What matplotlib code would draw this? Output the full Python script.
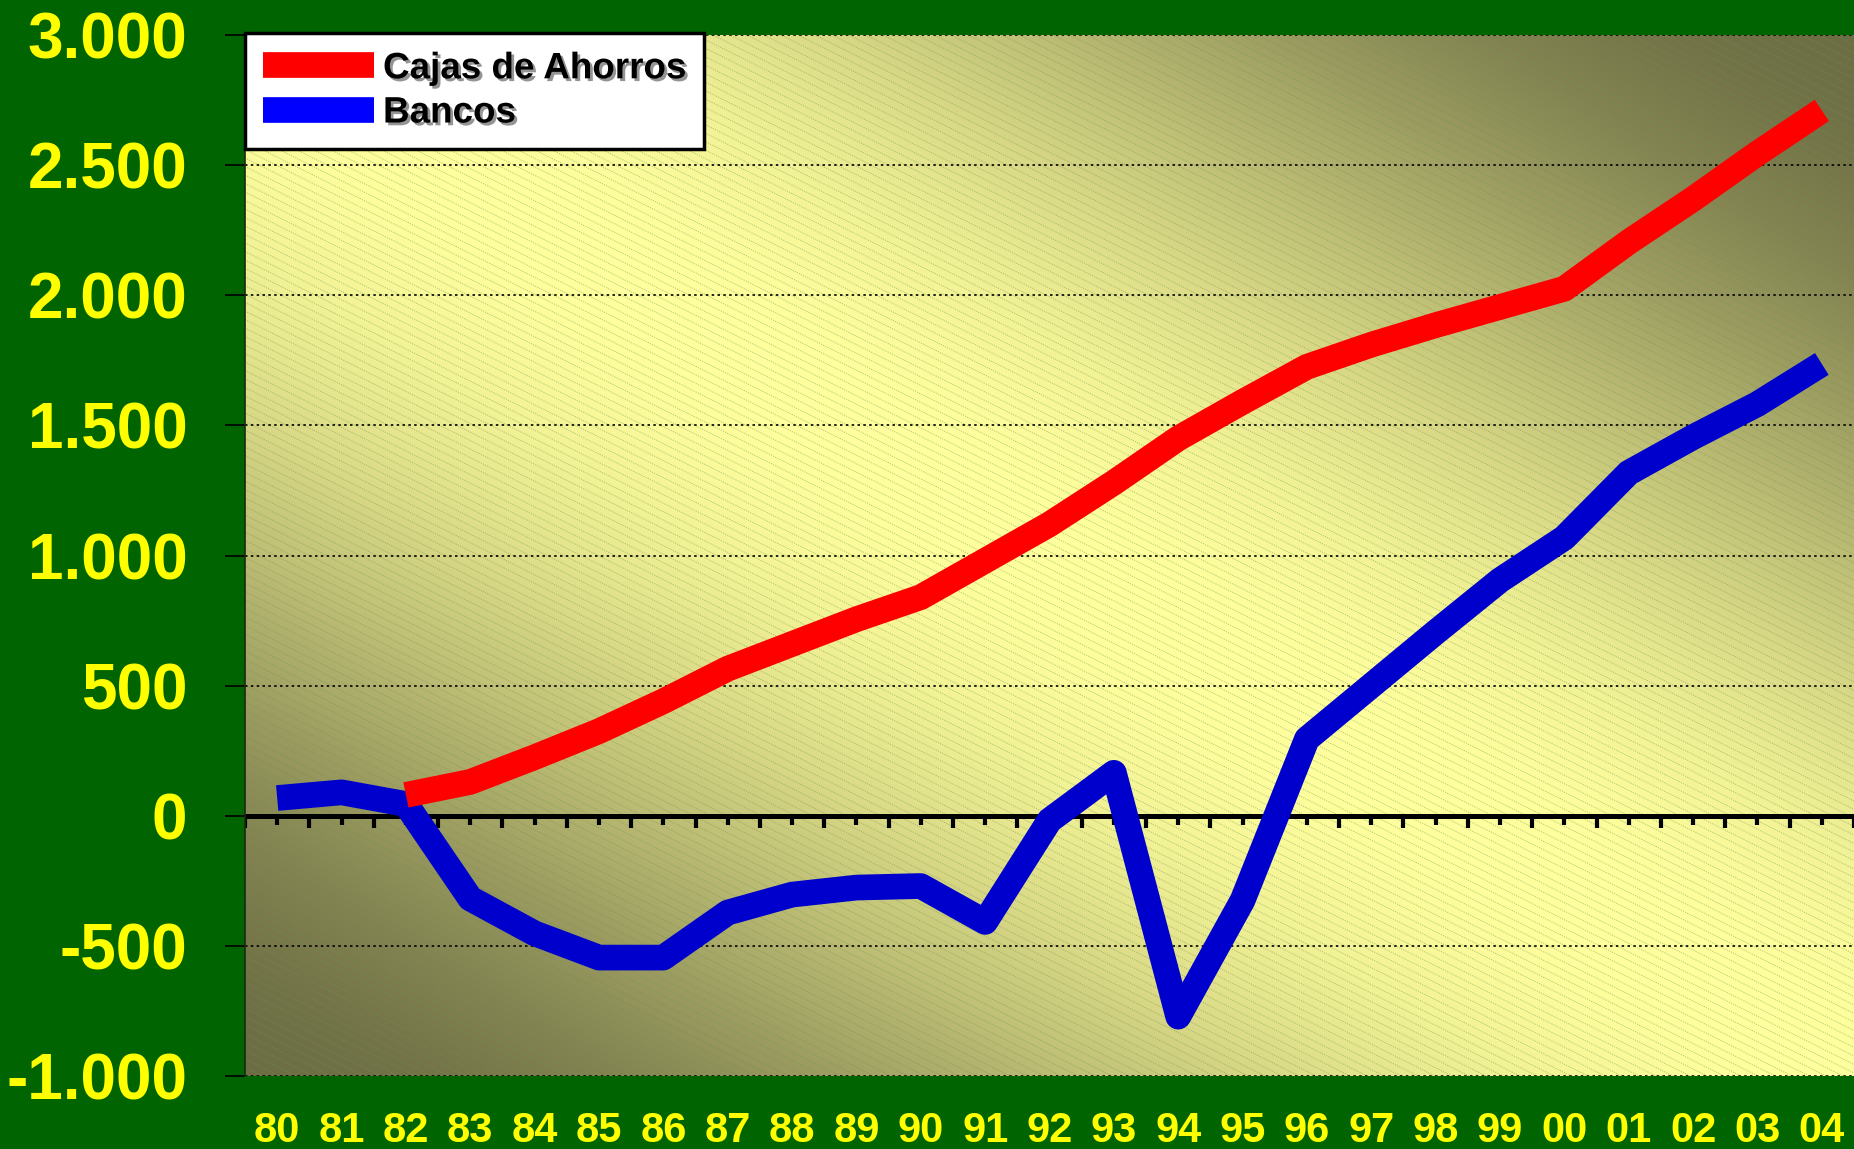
import numpy as np
import matplotlib.pyplot as plt
import matplotlib.patheffects as pe
from matplotlib.collections import LineCollection

years = ["80", "81", "82", "83", "84", "85", "86", "87", "88", "89", "90", "91",
         "92", "93", "94", "95", "96", "97", "98", "99", "00", "01", "02", "03", "04"]
cajas = [np.nan, np.nan, 80, 130, 225, 325, 440, 565, 660, 755, 840, 980,
         1120, 1280, 1450, 1590, 1725, 1810, 1885, 1955, 2025, 2205, 2370, 2545, 2710]
bancos = [68, 90, 45, -318, -452, -545, -545, -372, -303, -276, -270, -408,
          -18, 165, -772, -325, 295, 500, 705, 905, 1068, 1318, 1455, 1582, 1736]
yticks = [-1000, -500, 0, 500, 1000, 1500, 2000, 2500, 3000]
ylabels = ["-1.000", "-500", "0", "500", "1.000", "1.500", "2.000", "2.500", "3.000"]

plt.rcParams['font.family'] = ['Liberation Sans', 'DejaVu Sans']
plt.rcParams['font.weight'] = 'bold'

fig = plt.figure(figsize=(18.54, 11.49), dpi=100, facecolor='#006400')
ax = fig.add_axes([245 / 1854, 73 / 1149, 1 - 245 / 1854, 1041 / 1149])

# background: diagonal two-sided gradient
n = 400
u, v = np.meshgrid(np.linspace(0, 1, n), np.linspace(0, 1, n))
t = (u + v) / 2
f = np.sin(np.pi * t) ** 1.8
dark = np.array([0.43, 0.43, 0.27])
light = np.array([1.0, 1.0, 0.62])
img = dark + (light - dark) * f[..., None]
ax.imshow(img, extent=[0, 1, 0, 1], transform=ax.transAxes, origin='lower',
          aspect='auto', zorder=0, interpolation='bilinear')

# fine diagonal hatch
W, H = 1609, 1041
segs = []
for c in np.arange(0, H + 0.5 * W + 10, 8.5):
    segs.append([(0, c / H), (1, (c - 0.5 * W) / H)])
hatch = LineCollection(segs, colors=[(0.42, 0.6, 0.28, 0.5)], linewidths=0.7,
                       linestyles=[(0, (1.2, 1.2))], transform=ax.transAxes, zorder=0.5)
hatch.set_clip_path(ax.patch)
ax.add_collection(hatch)

x = np.arange(len(years))

ax.set_yticks(yticks)
ax.set_yticklabels(ylabels)
ax.yaxis.grid(True, color='black', linestyle=(0, (1.5, 2)), linewidth=1.2, zorder=1)
ax.set_axisbelow(True)

# category axis at zero
ax.axhline(0, color='black', linewidth=3.6, zorder=2)
ax.vlines(np.arange(-0.5, len(years), 1), -46, 0, color='black', linewidth=3, zorder=2)
ax.vlines(x, -35, 0, color='black', linewidth=3, zorder=2)

lb, = ax.plot(x, bancos, color='#0000CC', linewidth=18.5, solid_capstyle='butt',
              solid_joinstyle='round', zorder=3, label='Bancos')
lc, = ax.plot(x, cajas, color='#FF0000', linewidth=18.5, solid_capstyle='butt',
              solid_joinstyle='round', zorder=4, label='Cajas de Ahorros')

ax.set_xticks(x)
ax.set_xticklabels(years)
ax.set_xlim(-0.5, len(years) - 0.5)
ax.set_ylim(-1000, 3000)

ax.tick_params(axis='x', length=0, pad=25, labelsize=30, labelcolor='yellow')
ax.tick_params(axis='y', length=14.5, width=1.2, direction='out', pad=27,
               labelsize=46, labelcolor='yellow', color='black')

for s in ['top', 'right', 'bottom']:
    ax.spines[s].set_visible(False)
ax.spines['left'].set_color('#1a2a10')
ax.spines['left'].set_linewidth(1.2)

leg = ax.legend(handles=[lc, lb], loc='upper left', bbox_to_anchor=(0, 1.002),
                borderaxespad=0, fancybox=False, framealpha=1, facecolor='white',
                edgecolor='black', fontsize=26.5, handlelength=3.0, handleheight=0.7,
                handletextpad=0.25, labelspacing=0.25, borderpad=0.5)
leg.get_frame().set_linewidth(2.5)
leg.legend_handles[1].set_color('#0000FF')
leg.set_zorder(6)
for txt in leg.get_texts():
    txt.set_fontweight('bold')
    txt.set_path_effects([pe.SimplePatchShadow(offset=(2, -2), shadow_rgbFace='#888888', alpha=0.9),
                          pe.Normal()])

fig.savefig('out.png', dpi=100, facecolor=fig.get_facecolor())
